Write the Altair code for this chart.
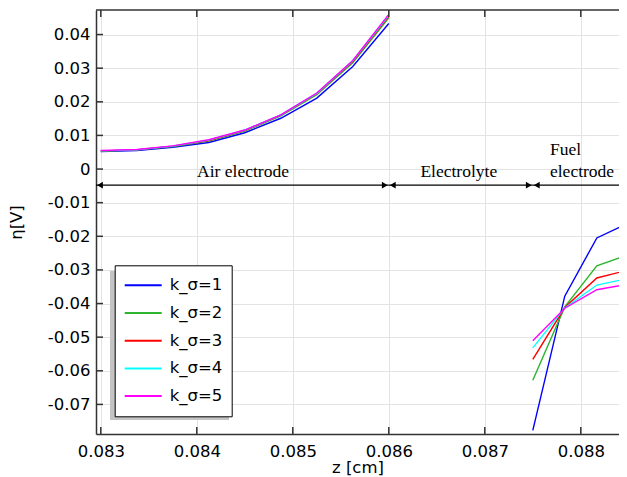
import altair as alt
import pandas as pd

# ---------------- data ----------------
series = ["k_σ=1", "k_σ=2", "k_σ=3", "k_σ=4", "k_σ=5"]
colors = ["#0000ff", "#2db52d", "#ff0000", "#00ffff", "#ff00ff"]

z_air = [0.083, 0.083375, 0.08375, 0.084125, 0.0845, 0.084875, 0.08525, 0.085625, 0.086]
eta_air_1 = [0.0052, 0.0055, 0.0065, 0.0079, 0.0108, 0.0151, 0.0211, 0.0305, 0.0433]
eta_air_2 = [0.0053, 0.0057, 0.0067, 0.0083, 0.0113, 0.0158, 0.0221, 0.0316, 0.0450]
eta_air_3 = [0.0054, 0.0057, 0.0068, 0.0085, 0.0115, 0.0160, 0.0224, 0.0320, 0.0454]
eta_air_4 = [0.0054, 0.0057, 0.0068, 0.0086, 0.0116, 0.0161, 0.0225, 0.0322, 0.0457]
eta_air_5 = [0.0055, 0.0058, 0.0069, 0.0087, 0.0116, 0.0161, 0.0226, 0.0323, 0.0460]

z_fuel = [0.0875, 0.087833, 0.088167, 0.0885]
eta_fuel_1 = [-0.0777, -0.0378, -0.0205, -0.0160]
eta_fuel_2 = [-0.0628, -0.0410, -0.0288, -0.0254]
eta_fuel_3 = [-0.0566, -0.0412, -0.0324, -0.0300]
eta_fuel_4 = [-0.0532, -0.0413, -0.0345, -0.0325]
eta_fuel_5 = [-0.0511, -0.0414, -0.0359, -0.0342]

x_ticks = [0.083, 0.084, 0.085, 0.086, 0.087, 0.088]
y_ticks = [-0.07, -0.06, -0.05, -0.04, -0.03, -0.02, -0.01, 0.0, 0.01, 0.02, 0.03, 0.04]

# region annotations
seg_start = [0.08295, 0.086, 0.0875]
seg_end = [0.086, 0.0875, 0.0885]
arrow_eta = -0.0048
tips_left = [0.08295, 0.086, 0.0875]   # arrowheads pointing left
tips_right = [0.086, 0.0875]           # arrowheads pointing right
label_center_text = ["Air electrode", "Electrolyte"]
label_center_z = [0.084481, 0.086729]
label_center_eta = [-0.0010, -0.0010]
label_left_text = ["Fuel", "electrode"]
label_left_z = [0.087679, 0.087679]
label_left_eta = [0.0057, -0.0010]

W, H = 523, 424
X_DOMAIN = [0.08295, 0.08295 + W / 96000]
Y_DOMAIN = [-0.0788, 0.0473]

# ---------------- tables ----------------
air = [eta_air_1, eta_air_2, eta_air_3, eta_air_4, eta_air_5]
fuel = [eta_fuel_1, eta_fuel_2, eta_fuel_3, eta_fuel_4, eta_fuel_5]
rows = []
for i, s in enumerate(series):
    for j, (z, e) in enumerate(zip(z_air, air[i])):
        rows.append({"z": z, "eta": e, "series": s, "region": "air", "order": j})
    for j, (z, e) in enumerate(zip(z_fuel, fuel[i])):
        rows.append({"z": z, "eta": e, "series": s, "region": "fuel", "order": j})
df = pd.DataFrame(rows)

xs = alt.Scale(domain=X_DOMAIN, nice=False, zero=False)
ys = alt.Scale(domain=Y_DOMAIN, nice=False, zero=False)

FONT = "DejaVu Sans"
FS = 16.5
AX = "#333333"

ylabel = "datum.value == 0 ? '0' : replace(format(datum.value, '.2f'), '\u2212', '-')"

lines = alt.Chart(df).mark_line(strokeWidth=1.4, clip=True).encode(
    x=alt.X("z:Q", scale=xs, axis=alt.Axis(
        values=x_ticks, tickCount=20, format=".3f", title="z [cm]", grid=True, ticks=False,
        labelPadding=9, titlePadding=0, gridColor="#e3e3e3", domainColor=AX,
        domainWidth=1.5, labelFont=FONT, labelFontSize=FS, titleFont=FONT,
        titleFontSize=FS, titleFontWeight="normal", labelColor="#000", titleColor="#000",
        labelOverlap=False, labelFlush=False)),
    y=alt.Y("eta:Q", scale=ys, axis=alt.Axis(
        values=y_ticks, tickCount=30, labelExpr=ylabel, title="η[V]", grid=True, ticks=False,
        labelPadding=6, titlePadding=23, gridColor="#e3e3e3", domainColor=AX,
        domainWidth=1.5, labelFont=FONT, labelFontSize=FS, titleFont=FONT,
        titleFontSize=FS, titleFontWeight="normal", labelColor="#000", titleColor="#000",
        labelOverlap=False)),
    color=alt.Color("series:N", scale=alt.Scale(domain=series, range=colors),
                    legend=alt.Legend(
                        orient="none", legendX=18.7, legendY=255.3, title=None,
                        fillColor="white", strokeColor="black", padding=9,
                        symbolType="stroke", symbolSize=1369, symbolStrokeWidth=2,
                        clipHeight=22, labelFont=FONT, labelFontSize=FS, labelColor="#000",
                        labelOffset=7, rowPadding=5.7)),
    detail="region:N",
    order="order:Q",
)

xt = pd.DataFrame({"z": x_ticks})
yt = pd.DataFrame({"eta": y_ticks})
bottom_ticks = alt.Chart(xt).mark_rule(color=AX, strokeWidth=1.5).encode(
    x=alt.X("z:Q", scale=xs), y=alt.value(H), y2=alt.value(H - 7))
top_ticks = alt.Chart(xt).mark_rule(color=AX, strokeWidth=1.5).encode(
    x=alt.X("z:Q", scale=xs), y=alt.value(0), y2=alt.value(7))
left_ticks = alt.Chart(yt).mark_rule(color=AX, strokeWidth=1.5).encode(
    y=alt.Y("eta:Q", scale=ys), x=alt.value(0), x2=alt.value(7))
top_border = alt.Chart(xt.head(1)).mark_rule(color=AX, strokeWidth=1.5).encode(
    x=alt.value(0), x2=alt.value(W + 2), y=alt.value(0))

# drop shadow behind the legend box (legend is drawn over it)
legend_shadow = alt.Chart(xt.head(1)).mark_rect(color="#c4c4c4").encode(
    x=alt.value(14), x2=alt.value(133), y=alt.value(261), y2=alt.value(410))

segs = pd.DataFrame({"z1": seg_start, "z2": seg_end, "eta": [arrow_eta] * len(seg_start)})
arrow_lines = alt.Chart(segs).mark_rule(color="black", strokeWidth=1.2, clip=True).encode(
    x=alt.X("z1:Q", scale=xs), x2="z2:Q", y=alt.Y("eta:Q", scale=ys))

heads_l = alt.Chart(pd.DataFrame({"z": tips_left, "eta": [arrow_eta] * len(tips_left)})).mark_point(
    shape="triangle-left", filled=True, color="black", opacity=1, size=45, xOffset=4).encode(
    x=alt.X("z:Q", scale=xs), y=alt.Y("eta:Q", scale=ys))
heads_r = alt.Chart(pd.DataFrame({"z": tips_right, "eta": [arrow_eta] * len(tips_right)})).mark_point(
    shape="triangle-right", filled=True, color="black", opacity=1, size=45, xOffset=-4).encode(
    x=alt.X("z:Q", scale=xs), y=alt.Y("eta:Q", scale=ys))

txt_c = alt.Chart(pd.DataFrame({"t": label_center_text, "z": label_center_z, "eta": label_center_eta})).mark_text(
    font="Liberation Serif", fontSize=17.5, align="center", baseline="middle", color="black").encode(
    x=alt.X("z:Q", scale=xs), y=alt.Y("eta:Q", scale=ys), text="t:N")
txt_l = alt.Chart(pd.DataFrame({"t": label_left_text, "z": label_left_z, "eta": label_left_eta})).mark_text(
    font="Liberation Serif", fontSize=17.5, align="left", baseline="middle", color="black").encode(
    x=alt.X("z:Q", scale=xs), y=alt.Y("eta:Q", scale=ys), text="t:N")

chart = alt.layer(
    legend_shadow, lines, bottom_ticks, top_ticks, left_ticks, top_border,
    arrow_lines, heads_l, heads_r, txt_c, txt_l
).properties(
    width=W, height=H,
    autosize=alt.AutoSizeParams(type="none"),
    padding={"left": 88, "top": 2, "right": 0, "bottom": 42},
).configure_view(stroke=None).configure_axis(labelOverlap=False)

chart.save("out.html", embed_options={"renderer": "svg", "actions": False})
